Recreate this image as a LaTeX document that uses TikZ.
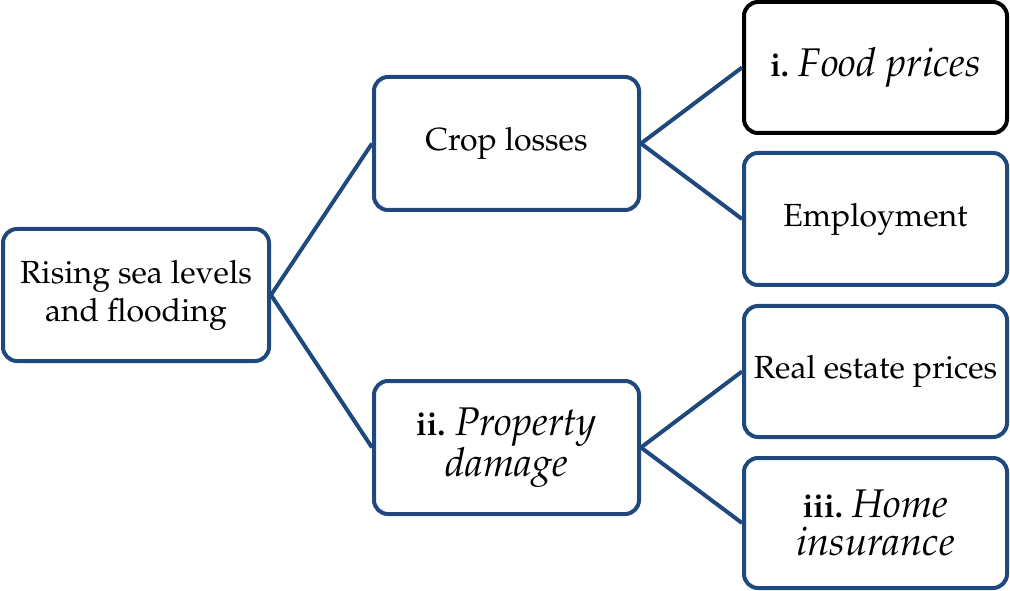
\documentclass[tikz,border=0pt]{standalone}
\usepackage[T1]{fontenc}
\renewcommand\rmdefault{ppl}
\newcommand\scr[1]{{\fontsize{40}{38}\selectfont\itshape #1}}
\definecolor{boxblue}{RGB}{31,73,125}
\tikzset{
  box/.style={draw=boxblue, line width=4pt, rounded corners=14pt, fill=white,
    align=center, font=\fontsize{32}{38}\selectfont, inner sep=2pt},
  link/.style={draw=boxblue, line width=4pt}
}
\begin{document}
\begin{tikzpicture}[x=1pt,y=1pt]
\useasboundingbox (0,0) rectangle (1010,590);
\node[box, minimum width=266pt, minimum height=132pt] (root) at (136,295) {Rising sea levels\\and flooding};
\node[box, minimum width=265pt, minimum height=133pt] (crop) at (506.5,446.5) {Crop losses};
\node[box, minimum width=265pt, minimum height=133pt] (prop) at (506.5,142.5) {\textbf{ii.} \scr{Property}\\\scr{damage}};
\node[box, draw=black, minimum width=263pt, minimum height=131pt] (food) at (875.5,522.5) {\textbf{i.} \scr{Food prices}};
\node[box, minimum width=263pt, minimum height=132pt] (emp) at (875.5,371) {Employment};
\node[box, minimum width=263pt, minimum height=131pt] (real) at (875.5,218.5) {Real estate prices};
\node[box, minimum width=263pt, minimum height=130pt] (home) at (875.5,67) {\textbf{iii.} \scr{Home}\\\scr{insurance}};
\draw[link] (root.east) -- (crop.west);
\draw[link] (root.east) -- (prop.west);
\draw[link] (crop.east) -- (food.west);
\draw[link] (crop.east) -- (emp.west);
\draw[link] (prop.east) -- (real.west);
\draw[link] (prop.east) -- (home.west);
\end{tikzpicture}
\end{document}
